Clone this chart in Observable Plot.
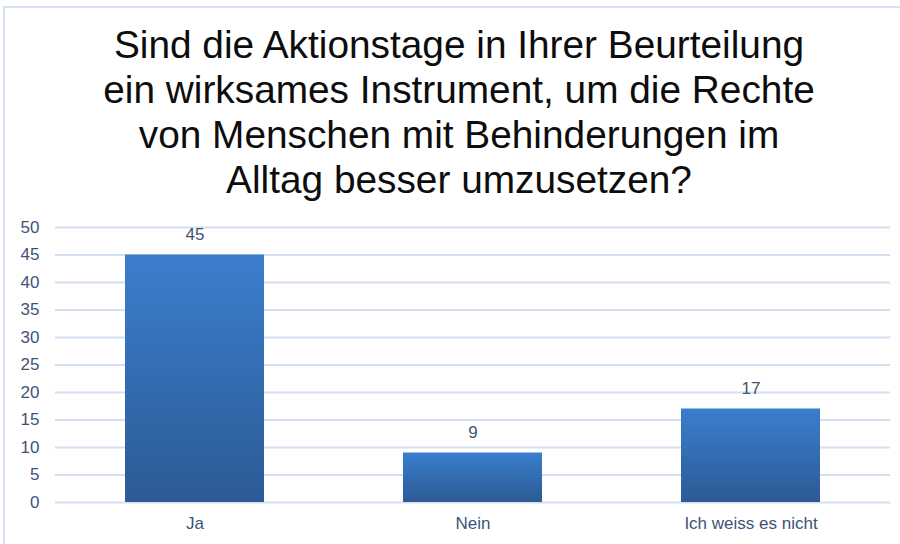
<!DOCTYPE html>
<html>
<head>
<meta charset="utf-8">
<script src="https://cdn.jsdelivr.net/npm/d3@7"></script>
<script src="https://cdn.jsdelivr.net/npm/@observablehq/plot@0.6"></script>
<style>
  html, body { margin: 0; padding: 0; background: #fff; }
  body { width: 900px; height: 544px; position: relative; overflow: hidden; font-family: "Liberation Sans", Arial, sans-serif; }
  #frame { position: absolute; left: 3px; top: 6px; width: 900px; height: 600px; border-left: 2px solid #d5e1f2; border-top: 2px solid #d5e1f2; box-sizing: border-box; }
  #title { position: relative; padding-top: 22px; height: 181px; text-align: center; font-size: 38.8px; line-height: 45px; color: #0d0d0d; width: 920px; white-space: nowrap; }
  #title div { width: 900px; margin-left: 9px; }
  #chart { position: relative; }
</style>
</head>
<body>
<div id="frame"></div>
<div id="title"><div>Sind die Aktionstage in Ihrer Beurteilung<br>ein wirksames Instrument, um die Rechte<br>von Menschen mit Behinderungen im<br>Alltag besser umzusetzen?</div></div>
<div id="chart"></div>
<script>
const categories = ["Ja", "Nein", "Ich weiss es nicht"];
const values = [45, 9, 17];
const yTicks = [0, 5, 10, 15, 20, 25, 30, 35, 40, 45, 50];

const data = categories.map((c, i) => ({category: c, value: values[i]}));
const textColor = "#3d5479";

const plot = Plot.plot({
  width: 900,
  height: 341,
  marginTop: 24,
  marginBottom: 42,
  marginLeft: 55,
  marginRight: 10,
  style: {fontFamily: "Liberation Sans, Arial, sans-serif", fontSize: "17px", color: textColor, background: "transparent"},
  x: {domain: categories, paddingInner: 0.5, paddingOuter: 0.25, label: null, tickSize: 0, tickPadding: 16},
  y: {domain: [0, 50], ticks: yTicks, label: null, tickSize: 0, tickPadding: 16},
  marks: [
    Plot.gridY(yTicks, {stroke: "#d3dff2", strokeOpacity: 1, strokeWidth: 2}),
    Plot.barY(data, {x: "category", y: "value", fill: "url(#barGrad)"}),
    Plot.text(data, {x: "category", y: "value", text: d => String(d.value), dy: -20, fill: textColor, fontSize: 17}),
    Plot.axisY({ticks: yTicks, tickSize: 0, tickPadding: 16, fontSize: 17, fill: textColor}),
    Plot.axisX({tickSize: 0, tickPadding: 14, fontSize: 17, fill: textColor})
  ]
});

const svg = d3.select(plot);
const defs = svg.insert("defs", ":first-child");
const g = defs.append("linearGradient").attr("id", "barGrad").attr("x1", 0).attr("y1", 0).attr("x2", 0).attr("y2", 1);
g.append("stop").attr("offset", "0%").attr("stop-color", "#3b7ecd");
g.append("stop").attr("offset", "100%").attr("stop-color", "#2c5a95");

document.getElementById("chart").appendChild(plot);
</script>
</body>
</html>
